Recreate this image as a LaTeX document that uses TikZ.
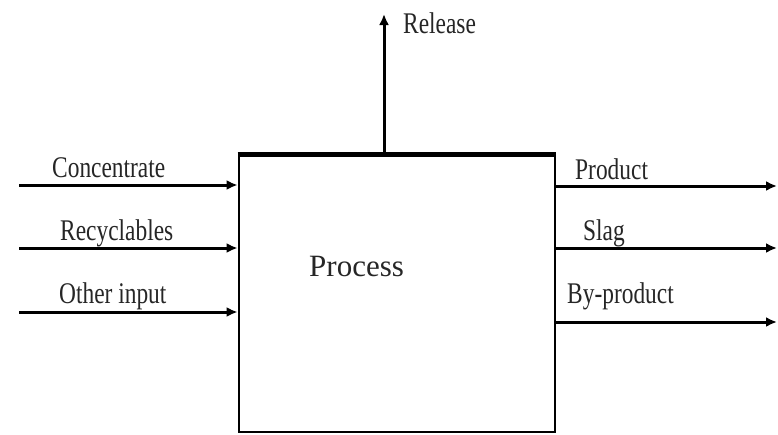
\documentclass[tikz,border=0pt]{standalone}
\usepackage{fontspec}
\setmainfont{Liberation Serif}
\usetikzlibrary{arrows.meta}
\newcommand{\lbltext}[1]{\scalebox{0.78}[1]{#1}}
\begin{document}
\begin{tikzpicture}[x=1pt,y=-1pt,
  flow/.style={line width=3pt,-{Latex[length=11pt,width=10pt]}},
  lbl/.style={anchor=base west,inner sep=0pt,font=\fontsize{30}{36}\selectfont,text=black!85},
  procbox/.style={draw,line width=2.8pt,minimum width=316pt,minimum height=276pt,inner sep=0pt}]
\useasboundingbox (0,0) rectangle (778,434);
\node[procbox] (proc) at (397,294) {};
\draw[line width=4.5pt] (proc.north west) -- (proc.north east);
\node[lbl] (ptext) at (309,276) {\fontsize{31}{36}\selectfont Process};
% inputs
\coordinate (i1) at (19,185);
\coordinate (i2) at (19,248);
\coordinate (i3) at (19,312);
\draw[flow] (i1) -- (i1 -| proc.west);
\draw[flow] (i2) -- (i2 -| proc.west);
\draw[flow] (i3) -- (i3 -| proc.west);
\node[lbl] (l1) at (52,177) {\lbltext{Concentrate}};
\node[lbl] (l2) at (60,240) {\lbltext{Recyclables}};
\node[lbl] (l3) at (59,303) {\lbltext{Other input}};
% outputs
\coordinate (o1) at (777,186);
\coordinate (o2) at (777,248);
\coordinate (o3) at (777,322);
\draw[flow] (o1 -| proc.east) -- (o1);
\draw[flow] (o2 -| proc.east) -- (o2);
\draw[flow] (o3 -| proc.east) -- (o3);
\node[lbl] (r1) at (575,179) {\lbltext{Product}};
\node[lbl] (r2) at (583,240) {\lbltext{Slag}};
\node[lbl] (r3) at (567,303) {\lbltext{By-product}};
% release
\coordinate (rel) at (384,14);
\draw[flow] (rel |- proc.north) -- (rel);
\node[lbl] (rl) at (403,33) {\lbltext{Release}};
\end{tikzpicture}
\end{document}
